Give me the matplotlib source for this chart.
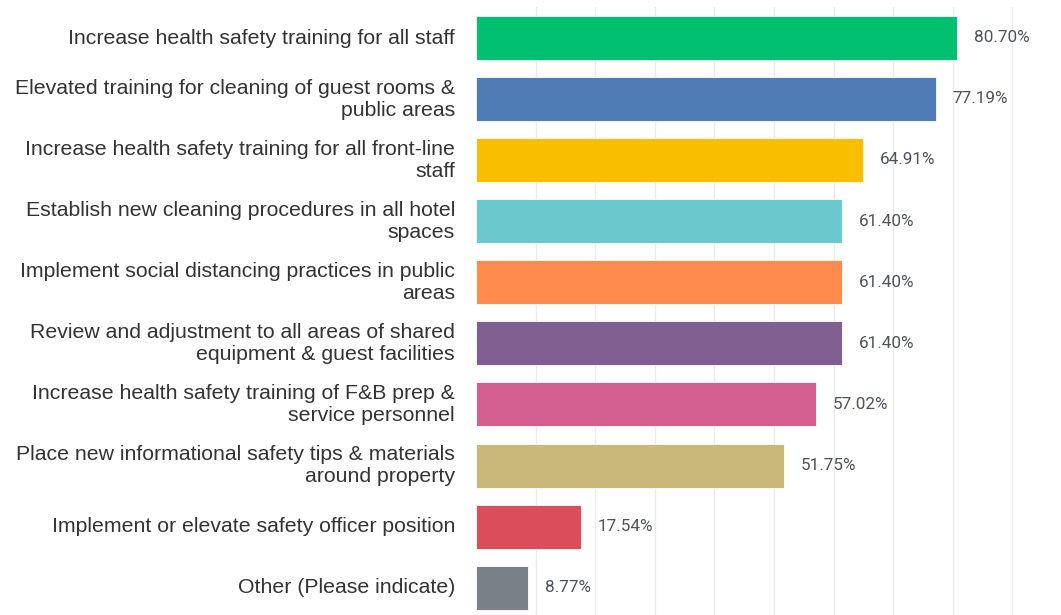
import matplotlib
matplotlib.use("Agg")
import matplotlib.pyplot as plt

categories = [
    "Increase health safety training for all staff",
    "Elevated training for cleaning of guest rooms &\npublic areas",
    "Increase health safety training for all front-line\nstaff",
    "Establish new cleaning procedures in all hotel\nspaces",
    "Implement social distancing practices in public\nareas",
    "Review and adjustment to all areas of shared\nequipment & guest facilities",
    "Increase health safety training of F&B prep &\nservice personnel",
    "Place new informational safety tips & materials\naround property",
    "Implement or elevate safety officer position",
    "Other (Please indicate)",
]
values = [80.70, 77.19, 64.91, 61.40, 61.40, 61.40, 57.02, 51.75, 17.54, 8.77]
colors = ["#00BF6F", "#507CB6", "#F9BE00", "#6BC8CD", "#FF8B4F",
          "#7F5E90", "#D25F90", "#C9B87A", "#DC4D5C", "#7A8088"]

W, H = 1061, 615
fig = plt.figure(figsize=(W / 100, H / 100), dpi=100)
left_px, top_px = 476, 7
ax = fig.add_axes([left_px / W, 0, (W - left_px) / W, (H - top_px) / H])

ypos = list(range(len(values)))
ax.barh(ypos, values, height=0.72, color=colors, edgecolor="white", linewidth=0.6, zorder=2)

px_per_unit = (957 - 476) / 80.7
ax.set_xlim(0, (W - left_px) / px_per_unit)
ax.set_ylim((H - 38) / 61.1, -0.5)

ax.set_xticks([10, 20, 30, 40, 50, 60, 70, 80, 90])
ax.grid(axis="x", color="#ebebeb", linewidth=1, zorder=0)
ax.tick_params(axis="both", length=0, labelbottom=False, labelleft=False)
for s in ax.spines.values():
    s.set_visible(False)

for y, v in zip(ypos, values):
    ax.text(v + 2.8, y, f"{v:.2f}%", va="center", ha="left",
            fontsize=12.3, color="#4d525c", family=["Roboto", "DejaVu Sans"])

for y, lab in zip(ypos, categories):
    fig.text(455 / W, 1 - (38 + 61.1 * y) / H, lab, ha="right", va="center",
             fontsize=15.3, color="#333333", family=["Liberation Sans", "DejaVu Sans"],
             linespacing=1.2, multialignment="right")

fig.savefig("out.png", dpi=100)
